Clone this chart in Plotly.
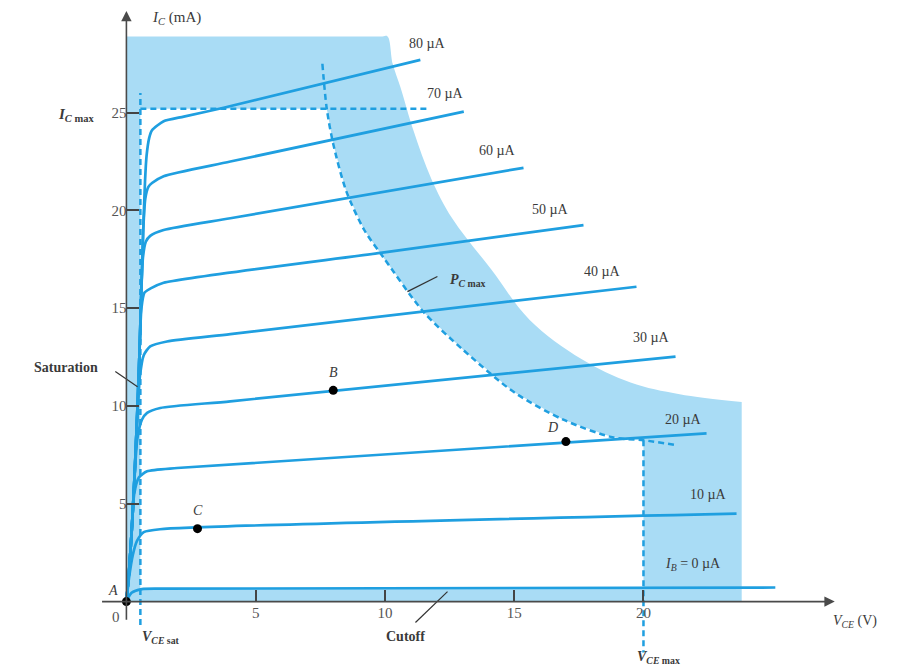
import plotly.graph_objects as go
import numpy as np

# ---------------- data ----------------
ib_labels = ["<i>I</i><sub><i>B</i></sub> = 0 µA", "10 µA", "20 µA", "30 µA", "40 µA",
             "50 µA", "60 µA", "70 µA", "80 µA"]
label_x = [21.9, 22.5, 21.55, 20.3, 18.4, 16.4, 14.35, 12.35, 11.65]
label_y = [1.9, 5.5, 9.3, 13.5, 16.9, 20.05, 23.05, 26.0, 28.55]

vce_0 = [0, 0.2, 0.6, 1.5, 25.1]
ic_0 = [0, 0.45, 0.64, 0.66, 0.72]
vce_10 = [0, 0.1, 0.25, 0.41, 0.67, 1.3, 23.6]
ic_10 = [0, 1.2, 2.4, 3.1, 3.55, 3.7, 4.5]
vce_20 = [0, 0.1, 0.2, 0.3, 0.48, 0.8, 1.96, 22.44]
ic_20 = [0, 1.5, 3.5, 5.5, 6.35, 6.66, 6.83, 8.6]
vce_30 = [0, 0.1, 0.2, 0.3, 0.42, 0.6, 0.8, 1.31, 4.02, 21.24]
ic_30 = [0, 1.5, 3.5, 6.0, 8.3, 9.3, 9.65, 9.9, 10.24, 12.53]
vce_40 = [0, 0.1, 0.2, 0.3, 0.4, 0.52, 0.67, 0.92, 1.57, 4.02, 19.73]
ic_40 = [0, 1.5, 3.5, 6.0, 9.0, 11.5, 12.6, 13.05, 13.3, 13.68, 16.1]
vce_50 = [0, 0.1, 0.2, 0.3, 0.4, 0.5, 0.58, 0.7, 0.92, 1.44, 9.83, 17.68]
ic_50 = [0, 1.5, 3.5, 6.0, 9.0, 12.5, 15.0, 15.8, 16.0, 16.3, 17.83, 19.25]
vce_60 = [0, 0.1, 0.2, 0.3, 0.4, 0.5, 0.58, 0.64, 0.75, 0.92, 1.44, 4.02, 15.36]
ic_60 = [0, 1.5, 3.5, 6.0, 9.0, 12.5, 16.0, 17.6, 18.4, 18.7, 19.0, 19.6, 22.18]
vce_70 = [0, 0.1, 0.2, 0.3, 0.4, 0.5, 0.58, 0.65, 0.73, 0.85, 0.99, 1.44, 4.02, 13.05]
ic_70 = [0, 1.5, 3.5, 6.0, 9.0, 12.5, 16.0, 19.0, 20.6, 21.2, 21.4, 21.75, 22.5, 25.05]
vce_80 = [0, 0.1, 0.2, 0.3, 0.4, 0.5, 0.58, 0.65, 0.72, 0.78, 0.88, 0.99, 1.44, 2.22, 3.76, 11.37]
ic_80 = [0, 1.5, 3.5, 6.0, 9.0, 12.5, 16.0, 19.0, 21.5, 22.8, 23.7, 24.1, 24.56, 24.8, 25.25, 27.7]

curves_v = [vce_0, vce_10, vce_20, vce_30, vce_40, vce_50, vce_60, vce_70, vce_80]
curves_i = [ic_0, ic_10, ic_20, ic_30, ic_40, ic_50, ic_60, ic_70, ic_80]

# limits
ic_max = 25.2
vce_sat = 0.54
vce_max = 20.0
ic_cutoff = 0.66
pcmax_v = [7.58, 7.75, 8.0, 8.5, 9.2, 9.94, 11.5, 13.0, 15.0, 16.9, 18.8, 20.0, 21.3]
pcmax_i = [27.5, 25.2, 23.4, 21.0, 19.0, 17.6, 14.8, 12.9, 10.7, 9.3, 8.4, 8.25, 8.0]
# outer edge of the shaded band (top edge, then curved edge)
outer_v = [0, 9.9, 10.1, 10.3, 10.6, 11.1, 11.8, 12.6, 14.1, 15.6, 17.6, 19.5, 21.4, 23.8]
outer_i = [28.9, 28.9, 28.9, 27.5, 26.3, 24.1, 21.6, 19.6, 17.0, 14.4, 12.4, 11.2, 10.6, 10.2]

# operating points
pt_names = ["A", "B", "C", "D"]
pt_v = [0.0, 8.0, 2.75, 17.0]
pt_i = [0.0, 10.8, 3.73, 8.18]
pt_label_x = [-0.5, 8.0, 2.75, 16.5]
pt_label_y = [0.55, 11.7, 4.65, 8.9]

x_ticks = [5, 10, 15, 20]
y_ticks = [5, 10, 15, 20, 25]

X_RANGE = [-4, 30]
Y_RANGE = [-3.6, 30.3]

# ---------------- styling ----------------
BLUE = "#1f9fe0"
SHADE = "#a9dcf5"
TXT = "#3a3a3a"
SERIF = "Liberation Serif, Times New Roman, serif"

fig = go.Figure()

# shaded region (outside the safe operating area)
fig.add_trace(go.Scatter(x=outer_v, y=outer_i, fill="tozeroy", fillcolor=SHADE,
                         line=dict(width=0, shape="spline", smoothing=1.0), mode="lines",
                         hoverinfo="skip", showlegend=False))

# white safe region
pv = np.array(pcmax_v)
pi_ = np.array(pcmax_i)
mask = (pv >= pcmax_v[1]) & (pv <= vce_max)
safe_x = [vce_sat, vce_sat] + list(pv[mask]) + [vce_max, vce_max]
safe_y = [ic_cutoff, ic_max] + list(pi_[mask]) + [ic_cutoff, ic_cutoff]
fig.add_trace(go.Scatter(x=safe_x, y=safe_y, fill="toself", fillcolor="white",
                         line=dict(width=0), mode="lines", hoverinfo="skip", showlegend=False))

# dashed limit lines
dash = dict(color=BLUE, width=2.5, dash="6px,4px")
fig.add_trace(go.Scatter(x=[vce_sat, vce_sat], y=[-1.2, 26.0], mode="lines", line=dash,
                         hoverinfo="skip", showlegend=False))
fig.add_trace(go.Scatter(x=[vce_sat, 11.7], y=[ic_max, ic_max], mode="lines", line=dash,
                         hoverinfo="skip", showlegend=False))
fig.add_trace(go.Scatter(x=[vce_max, vce_max], y=[8.25, -2.6], mode="lines", line=dash,
                         hoverinfo="skip", showlegend=False))
fig.add_trace(go.Scatter(x=pcmax_v, y=pcmax_i, mode="lines",
                         line=dict(color=BLUE, width=2.5, dash="6px,4px", shape="spline", smoothing=0.8),
                         hoverinfo="skip", showlegend=False))

# characteristic curves
for xv, yv in zip(curves_v, curves_i):
    fig.add_trace(go.Scatter(x=xv, y=yv, mode="lines",
                             line=dict(color=BLUE, width=2.7, shape="spline", smoothing=0.6),
                             hoverinfo="skip", showlegend=False))

# operating points
fig.add_trace(go.Scatter(x=pt_v, y=pt_i, mode="markers",
                         marker=dict(color="black", size=9), hoverinfo="skip", showlegend=False))

ann = []
# axis arrows
ann.append(dict(x=0, y=30.2, ax=0, ay=-1.0, xref="x", yref="y", axref="x", ayref="y",
                text="", showarrow=True, arrowhead=2, arrowsize=1.3, arrowwidth=1.6, arrowcolor="#4a4a4a"))
ann.append(dict(x=27.4, y=0, ax=-1.0, ay=0, xref="x", yref="y", axref="x", ayref="y",
                text="", showarrow=True, arrowhead=2, arrowsize=1.3, arrowwidth=1.6, arrowcolor="#4a4a4a"))

# curve labels
for t, xx, yy in zip(ib_labels, label_x, label_y):
    ann.append(dict(x=xx, y=yy, text=t, showarrow=False, xanchor="center", yanchor="middle",
                    font=dict(family=SERIF, size=14, color=TXT)))

# point labels
for t, xx, yy in zip(pt_names, pt_label_x, pt_label_y):
    ann.append(dict(x=xx, y=yy, text="<i>%s</i>" % t, showarrow=False,
                    font=dict(family=SERIF, size=14, color=TXT)))

# other texts
ann += [
    dict(x=0.9, y=29.85, text="<i>I</i><sub><i>C</i></sub> (mA)", showarrow=False, xanchor="left",
         font=dict(family=SERIF, size=15, color=TXT)),
    dict(x=-1.95, y=24.9, text="<b><i>I</i><sub><i>C</i> max</sub></b>", showarrow=False,
         font=dict(family=SERIF, size=15, color=TXT)),
    dict(x=-2.35, y=11.95, text="<b>Saturation</b>", showarrow=False,
         font=dict(family=SERIF, size=14, color=TXT)),
    dict(x=1.35, y=-1.85, text="<b><i>V</i><sub><i>CE</i> sat</sub></b>", showarrow=False,
         font=dict(family=SERIF, size=14, color=TXT)),
    dict(x=10.8, y=-1.8, text="<b>Cutoff</b>", showarrow=False,
         font=dict(family=SERIF, size=14, color=TXT)),
    dict(x=28.2, y=-1.0, text="<i>V</i><sub><i>CE</i></sub> (V)", showarrow=False,
         font=dict(family=SERIF, size=14, color=TXT)),
    dict(x=20.6, y=-2.85, text="<b><i>V</i><sub><i>CE</i> max</sub></b>", showarrow=False,
         font=dict(family=SERIF, size=14, color=TXT)),
    dict(x=13.2, y=16.4, text="<b><i>P</i><sub><i>C</i> max</sub></b>", showarrow=False,
         font=dict(family=SERIF, size=14, color=TXT)),
    dict(x=-0.4, y=-0.8, text="0", showarrow=False,
         font=dict(family=SERIF, size=15, color="#555")),
]

shapes = [
    dict(type="line", xref="x", yref="y", x0=-0.43, y0=11.76, x1=0.43, y1=10.99,
         line=dict(color="#333", width=1.2)),
    dict(type="line", xref="x", yref="y", x0=11.18, y0=-1.07, x1=12.42, y1=0.51,
         line=dict(color="#333", width=1.2)),
    dict(type="line", xref="x", yref="y", x0=10.87, y0=15.85, x1=12.03, y1=16.62,
         line=dict(color="#333", width=1.2)),
]

fig.update_layout(
    width=904, height=670,
    margin=dict(l=15, r=10, t=1, b=6, pad=0),
    paper_bgcolor="white", plot_bgcolor="white",
    showlegend=False,
    annotations=ann, shapes=shapes,
    xaxis=dict(range=X_RANGE, showgrid=False, zeroline=False, showline=False,
               anchor="free", position=(0 - Y_RANGE[0]) / (Y_RANGE[1] - Y_RANGE[0]),
               tickvals=x_ticks, ticktext=[str(v) for v in x_ticks],
               ticks="inside", ticklen=12, tickwidth=1.5, tickcolor="#444",
               tickfont=dict(family=SERIF, size=15, color="#555")),
    yaxis=dict(range=Y_RANGE, showgrid=False, zeroline=False, showline=False,
               anchor="free", position=(0 - X_RANGE[0]) / (X_RANGE[1] - X_RANGE[0]),
               tickvals=y_ticks, ticktext=[str(v) for v in y_ticks],
               ticks="inside", ticklen=12, tickwidth=1.5, tickcolor="#444",
               tickfont=dict(family=SERIF, size=15, color="#555")),
)

fig.write_html("out.html")
